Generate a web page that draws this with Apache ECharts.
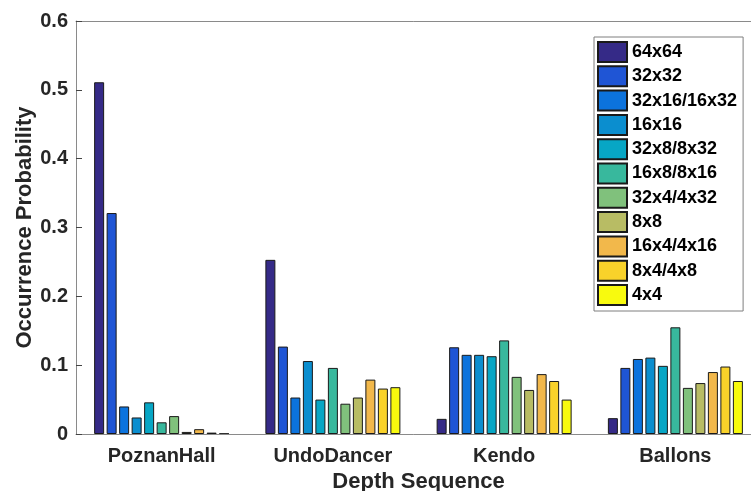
<!DOCTYPE html>
<html>
<head>
<meta charset="utf-8">
<script src="https://cdn.jsdelivr.net/npm/echarts@6/dist/echarts.min.js"></script>
<style>
html,body{margin:0;padding:0;background:#fff;}
#chart{width:751px;height:491px;}
</style>
</head>
<body>
<div id="chart"></div>
<script>
// Categories (depth sequences)
const categories = ['PoznanHall', 'UndoDancer', 'Kendo', 'Ballons'];
// Block sizes (legend names)
const blockNames = ['64x64', '32x32', '32x16/16x32', '16x16', '32x8/8x32', '16x8/8x16', '32x4/4x32', '8x8', '16x4/4x16', '8x4/4x8', '4x4'];
// Occurrence probability for each block size, per sequence
const v64x64 = [0.511, 0.253, 0.022, 0.023];
const v32x32 = [0.321, 0.127, 0.126, 0.096];
const v32x16 = [0.040, 0.053, 0.115, 0.109];
const v16x16 = [0.024, 0.106, 0.115, 0.111];
const v32x8  = [0.046, 0.050, 0.113, 0.099];
const v16x8  = [0.017, 0.096, 0.136, 0.155];
const v32x4  = [0.026, 0.044, 0.083, 0.067];
const v8x8   = [0.003, 0.053, 0.064, 0.074];
const v16x4  = [0.007, 0.079, 0.087, 0.090];
const v8x4   = [0.002, 0.066, 0.077, 0.098];
const v4x4   = [0.0005, 0.068, 0.050, 0.077];
const seriesValues = [v64x64, v32x32, v32x16, v16x16, v32x8, v16x8, v32x4, v8x8, v16x4, v8x4, v4x4];
// Y tick values
const yTicks = [0, 0.1, 0.2, 0.3, 0.4, 0.5, 0.6];

const colors = ['#352a87', '#1f55d5', '#0c73dd', '#0b8ecf', '#07a6c5', '#38b89d', '#80c17c', '#b8bc64', '#f2b84b', '#f9d22a', '#f8fa0e'];
const font = '"Liberation Sans", Arial, Helvetica, sans-serif';
const axisGrey = '#8a8a8a';
const textCol = '#262626';

const chart = echarts.init(document.getElementById('chart'), null, {renderer: 'canvas'});
const series = blockNames.map((n, i) => ({
  name: n,
  type: 'bar',
  data: seriesValues[i],
  barWidth: 10,
  barGap: '25%',
  itemStyle: {color: colors[i], borderColor: '#1a1a1a', borderWidth: 1},
  emphasis: {disabled: true},
  animation: false
}));

chart.setOption({
  animation: false,
  backgroundColor: '#ffffff',
  color: colors,
  grid: {left: 76, top: 21, right: -10, bottom: 57, containLabel: false, outerBoundsMode: 'none'},
  legend: {
    orient: 'vertical',
    left: 594, top: 37,
    padding: [4, 6, 5, 3],
    itemWidth: 29, itemHeight: 20, itemGap: 2.3,
    icon: 'rect',
    borderColor: '#7f7f7f', borderWidth: 1,
    backgroundColor: '#ffffff',
    textStyle: {fontFamily: font, fontSize: 18, fontWeight: 'bold', color: '#000'},
    data: blockNames,
    selectedMode: false
  },
  xAxis: [{
    type: 'category',
    data: categories,
    position: 'bottom',
    z: 5,
    name: 'Depth Sequence',
    nameLocation: 'middle',
    nameGap: 37,
    nameTextStyle: {fontFamily: font, fontSize: 22, fontWeight: 'bold', color: textCol},
    axisLine: {lineStyle: {color: axisGrey, width: 1}},
    axisTick: {inside: true, alignWithLabel: true, length: 6, lineStyle: {color: '#444'}},
    axisLabel: {fontFamily: font, fontSize: 20, fontWeight: 'bold', color: textCol, margin: 12},
    splitLine: {show: false}
  }, {
    type: 'category',
    data: categories,
    position: 'top',
    z: 5,
    axisLine: {show: true, lineStyle: {color: axisGrey, width: 1}},
    axisTick: {inside: true, alignWithLabel: true, length: 6, lineStyle: {color: '#444'}},
    axisLabel: {show: false},
    splitLine: {show: false}
  }],
  yAxis: {
    type: 'value',
    min: yTicks[0], max: yTicks[yTicks.length - 1], interval: 0.1,
    z: 5,
    name: 'Occurrence Probability',
    nameLocation: 'middle',
    nameGap: 40,
    nameMoveOverlap: false,
    nameTextStyle: {fontFamily: font, fontSize: 22, fontWeight: 'bold', color: textCol},
    axisLine: {show: true, lineStyle: {color: axisGrey, width: 1}},
    axisTick: {show: true, inside: true, length: 6, lineStyle: {color: '#444'}},
    axisLabel: {fontFamily: font, fontSize: 20, fontWeight: 'bold', color: textCol, margin: 8,
      formatter: v => String(Math.round(v * 10) / 10)},
    splitLine: {show: false}
  },
  series: series
});
</script>
</body>
</html>
